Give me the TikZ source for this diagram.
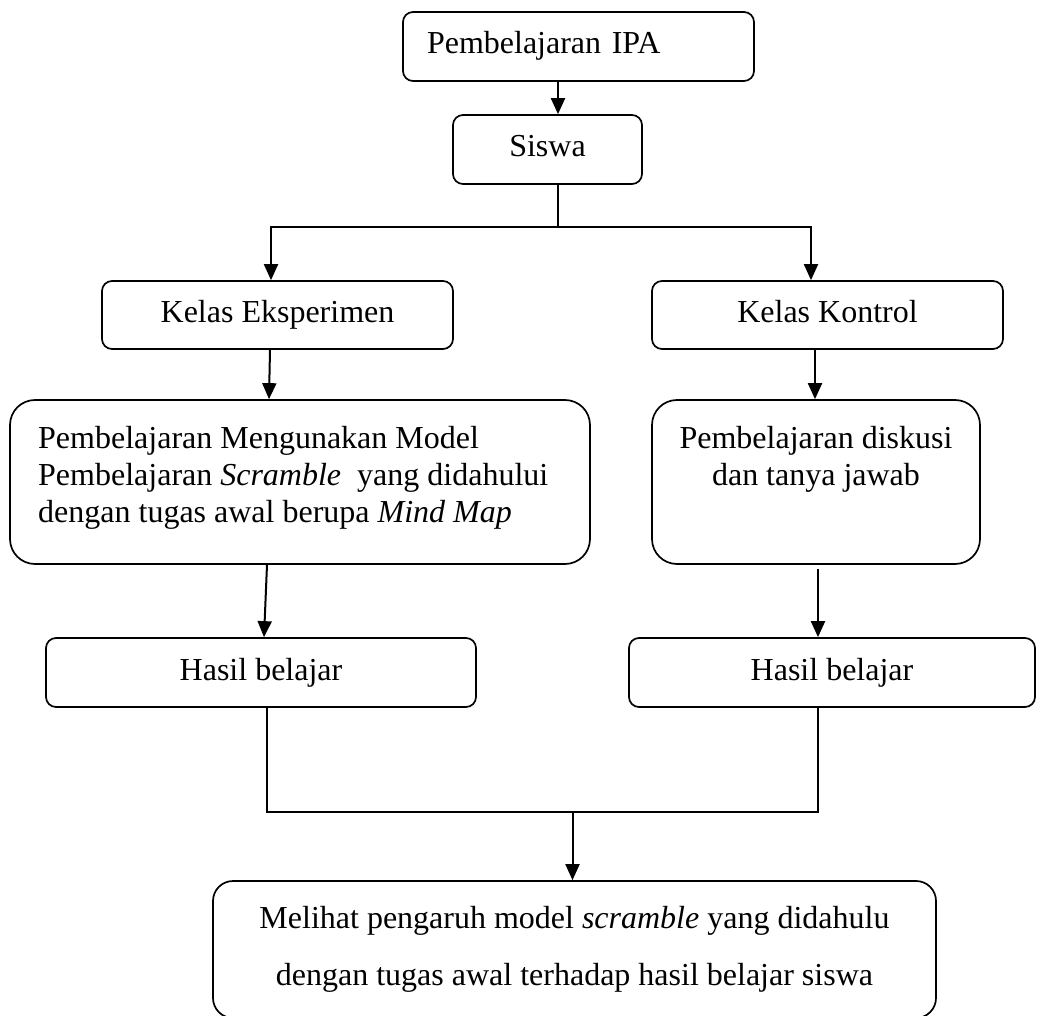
\documentclass[tikz,border=0pt]{standalone}
\usepackage{fontspec}
\setmainfont{Liberation Serif}
\usetikzlibrary{arrows.meta}
\begin{document}
\begin{tikzpicture}[x=1pt,y=-1pt,
  box/.style={draw, line width=1.7pt, rounded corners=10pt, font=\fontsize{32}{37}\selectfont, text height=22pt, text depth=7pt, inner sep=0pt},
  bigbox/.style={draw, line width=1.7pt, rounded corners=25pt, inner sep=0pt},
  txt/.style={inner sep=0pt, font=\fontsize{32}{37}\selectfont},
  arr/.style={line width=2pt, -{Triangle[width=14pt,length=16pt]}},
  ln/.style={line width=2pt, line join=miter}]
\useasboundingbox (0,0) rectangle (1037,1016);
\clip (0,0) rectangle (1037,1016);
\fill[white] (0,0) rectangle (1037,1016);

\node[box, minimum width=351pt, minimum height=69pt, text width=303pt, align=left] (top) at (578.5,46.5) {Pembelajaran IPA};
\node[box, minimum width=189pt, minimum height=69pt] (siswa) at (547.5,149.5) {Siswa};
\node[box, minimum width=351pt, minimum height=68pt] (ke) at (277.5,315) {Kelas Eksperimen};
\node[box, minimum width=351pt, minimum height=68pt] (kk) at (827.5,315) {Kelas Kontrol};

\node[bigbox, minimum width=580pt, minimum height=164pt] (pl) at (300,482) {};
\node[txt, anchor=north west, align=left] (plt) at (38,426) {Pembelajaran Mengunakan Model\\Pembelajaran \textit{Scramble}\ \ yang didahului\\dengan tugas awal berupa \textit{Mind Map}};
\node[bigbox, minimum width=328pt, minimum height=164pt] (pr) at (816,482) {};
\node[txt, anchor=north, align=center] (prt) at (816,426) {Pembelajaran diskusi\\dan tanya jawab};

\node[box, minimum width=430pt, minimum height=69pt] (hl) at (261,672.5) {Hasil belajar};
\node[box, minimum width=406pt, minimum height=69pt] (hr) at (832,672.5) {Hasil belajar};

\node[bigbox, rounded corners=20pt, minimum width=723pt, minimum height=137pt, align=center, font=\fontsize{32}{57}\selectfont] (bot) at (574.5,949.5) {Melihat pengaruh model \textit{scramble} yang didahulu\\dengan tugas awal terhadap hasil belajar siswa};

\coordinate (j0) at (558,227);
\coordinate (mj) at (572.5,812);
\draw[arr] ([xshift=-20.5pt]top.south) -- ([xshift=10.5pt]siswa.north);
\draw[ln] ([xshift=10.5pt]siswa.south) -- (j0);
\draw[arr] (j0) -| ([xshift=-6.5pt]ke.north);
\draw[arr] (j0) -| ([xshift=-16.5pt]kk.north);
\draw[arr] ([xshift=-7.5pt]ke.south) -- ([xshift=-31pt]pl.north);
\draw[arr] ([xshift=-12.5pt]kk.south) -- ([xshift=-1pt]pr.north);
\draw[arr] ([xshift=-33pt]pl.south) -- ([xshift=3pt]hl.north);
\draw[arr] ([xshift=2pt,yshift=-4pt]pr.south) -- ([xshift=-14pt]hr.north);
\draw[ln] ([xshift=6pt]hl.south) |- (mj) -| ([xshift=-14pt]hr.south);
\draw[arr] (mj) -- (mj |- bot.north);
\end{tikzpicture}
\end{document}
